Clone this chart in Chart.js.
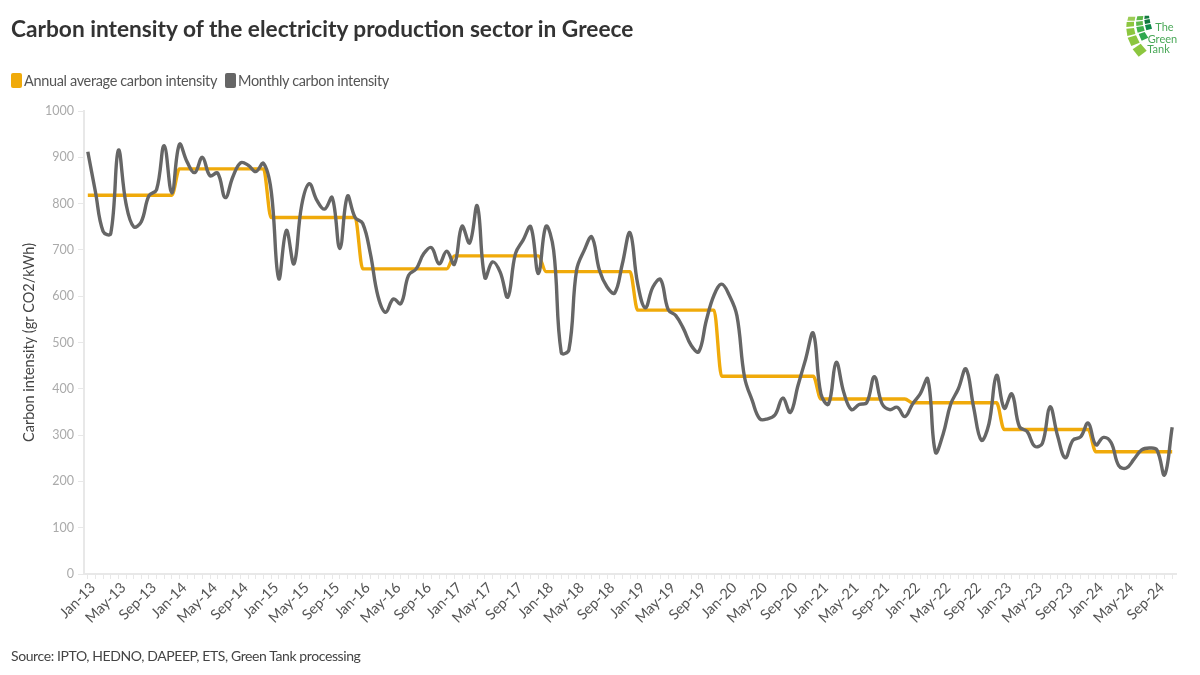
<!DOCTYPE html>
<html lang="en">
<head>
    <meta charset="UTF-8">
    <title>Carbon intensity of the electricity production sector in Greece</title>
    <style>
        * {
            margin: 0;
            padding: 0;
            box-sizing: border-box;
            font-family: Lato, sans-serif;
        }

        body {
            width: 1200px;
            height: 675px;
            background-color: #fff;
            position: relative;
            overflow: hidden;
        }

        #chart-box {
            position: absolute;
            left: 0;
            top: 0;
            width: 1200px;
            height: 675px;
        }

        h1 {
            position: absolute;
            left: 11px;
            top: 14px;
            font-size: 22.7px;
            line-height: 30px;
            font-weight: 700;
            color: #333;
            white-space: nowrap;
        }

        .legend-item {
            position: absolute;
            top: 71px;
            height: 20px;
            font-size: 14.5px;
            letter-spacing: -0.35px;
            line-height: 20px;
            color: #555;
            white-space: nowrap;
        }

        .swatch {
            position: absolute;
            top: 73px;
            width: 11px;
            height: 15px;
            border-radius: 2px;
        }

        #source {
            position: absolute;
            left: 11px;
            top: 646px;
            font-size: 14px;
            letter-spacing: -0.4px;
            line-height: 20px;
            color: #444;
            white-space: nowrap;
        }

        #logo {
            position: absolute;
            left: 1090px;
            top: 0;
        }
    </style>
    <script src="https://cdn.jsdelivr.net/npm/chart.js"></script>
</head>
<body>
    <div id="chart-box"><canvas id="intensityChart" width="1200" height="675"></canvas></div>

    <h1>Carbon intensity of the electricity production sector in Greece</h1>

    <div class="swatch" style="left: 11px; background-color: #f0aa0a;"></div>
    <div class="legend-item" style="left: 24px;">Annual average carbon intensity</div>
    <div class="swatch" style="left: 225px; background-color: #666;"></div>
    <div class="legend-item" style="left: 238px;">Monthly carbon intensity</div>

    <div id="source">Source: IPTO, HEDNO, DAPEEP, ETS, Green Tank processing</div>

    <svg id="logo" width="110" height="70" viewBox="0 0 330 210">
        <polygon points="128,148 152,131 170,152 146,170" fill="#8cc63f"/>
        <polygon points="113,113 138,106 149,128 124,138" fill="#8cc63f"/>
        <polygon points="109,86 132,84 136,102 112,108" fill="#8cc63f"/>
        <polygon points="110,66 132,65 132,79 109,81" fill="#8cc63f"/>
        <polygon points="115,50 136,50 134,62 112,62" fill="#9ccc55"/>
        <polygon points="146,102 164,96 175,113 155,122" fill="#2fa84f"/>
        <polygon points="139,81 160,78 164,92 143,98" fill="#3fb04a"/>
        <polygon points="138,65 158,63 159,75 139,78" fill="#5cb848"/>
        <polygon points="142,49 160,48 158,60 139,61" fill="#5cb848"/>
        <polygon points="165,75 182,72 186,86 169,91" fill="#0f8a4a"/>
        <polygon points="163,60 179,57 181,69 165,72" fill="#12793f"/>
        <polygon points="164,47 177,47 178,55 163,57" fill="#12793f"/>
        <text x="196" y="94" font-size="33" fill="#4aa858">The</text>
        <text x="173" y="128" font-size="33" fill="#4aa858">Green</text>
        <text x="172" y="160" font-size="33" fill="#4aa858">Tank</text>
    </svg>

    <script>
        // one label per month, Jan-13 to Nov-24
        const months = [
            'Jan-13', 'Feb-13', 'Mar-13', 'Apr-13', 'May-13', 'Jun-13', 'Jul-13', 'Aug-13', 'Sep-13', 'Oct-13', 'Nov-13', 'Dec-13',
            'Jan-14', 'Feb-14', 'Mar-14', 'Apr-14', 'May-14', 'Jun-14', 'Jul-14', 'Aug-14', 'Sep-14', 'Oct-14', 'Nov-14', 'Dec-14',
            'Jan-15', 'Feb-15', 'Mar-15', 'Apr-15', 'May-15', 'Jun-15', 'Jul-15', 'Aug-15', 'Sep-15', 'Oct-15', 'Nov-15', 'Dec-15',
            'Jan-16', 'Feb-16', 'Mar-16', 'Apr-16', 'May-16', 'Jun-16', 'Jul-16', 'Aug-16', 'Sep-16', 'Oct-16', 'Nov-16', 'Dec-16',
            'Jan-17', 'Feb-17', 'Mar-17', 'Apr-17', 'May-17', 'Jun-17', 'Jul-17', 'Aug-17', 'Sep-17', 'Oct-17', 'Nov-17', 'Dec-17',
            'Jan-18', 'Feb-18', 'Mar-18', 'Apr-18', 'May-18', 'Jun-18', 'Jul-18', 'Aug-18', 'Sep-18', 'Oct-18', 'Nov-18', 'Dec-18',
            'Jan-19', 'Feb-19', 'Mar-19', 'Apr-19', 'May-19', 'Jun-19', 'Jul-19', 'Aug-19', 'Sep-19', 'Oct-19', 'Nov-19', 'Dec-19',
            'Jan-20', 'Feb-20', 'Mar-20', 'Apr-20', 'May-20', 'Jun-20', 'Jul-20', 'Aug-20', 'Sep-20', 'Oct-20', 'Nov-20', 'Dec-20',
            'Jan-21', 'Feb-21', 'Mar-21', 'Apr-21', 'May-21', 'Jun-21', 'Jul-21', 'Aug-21', 'Sep-21', 'Oct-21', 'Nov-21', 'Dec-21',
            'Jan-22', 'Feb-22', 'Mar-22', 'Apr-22', 'May-22', 'Jun-22', 'Jul-22', 'Aug-22', 'Sep-22', 'Oct-22', 'Nov-22', 'Dec-22',
            'Jan-23', 'Feb-23', 'Mar-23', 'Apr-23', 'May-23', 'Jun-23', 'Jul-23', 'Aug-23', 'Sep-23', 'Oct-23', 'Nov-23', 'Dec-23',
            'Jan-24', 'Feb-24', 'Mar-24', 'Apr-24', 'May-24', 'Jun-24', 'Jul-24', 'Aug-24', 'Sep-24', 'Oct-24', 'Nov-24'
        ];

        const monthlyIntensity = [
            912, 825, 740, 735, 915, 800, 750, 761, 817, 830, 925, 823,
            928, 890, 867, 900, 860, 866, 813, 858, 888, 883, 869, 887,
            829, 638, 742, 670, 796, 843, 807, 788, 813, 703, 816, 770,
            757, 692, 600, 565, 594, 584, 645, 659, 692, 705, 670, 697,
            669, 751, 715, 795, 640, 674, 652, 598, 692, 721, 750, 649,
            751, 699, 478, 484, 656, 699, 728, 656, 620, 607, 670, 737,
            627, 575, 620, 636, 571, 558, 530, 494, 480, 548, 602, 626,
            602, 558, 425, 375, 335, 335, 344, 380, 349, 407, 464, 520,
            389, 367, 457, 392, 355, 366, 370, 426, 368, 355, 360, 340,
            367, 389, 421, 263, 302, 367, 400, 443, 360, 289, 324, 429,
            358, 389, 318, 308, 276, 282, 361, 298, 251, 289, 296, 326,
            279, 295, 284, 234, 229, 248, 268, 272, 268, 214, 317
        ];

        // annual average per month, the 2020 level already starts in Dec-19 in the source
        const annualIntensity = [
            818, 818, 818, 818, 818, 818, 818, 818, 818, 818, 818, 818,
            875, 875, 875, 875, 875, 875, 875, 875, 875, 875, 875, 875,
            770, 770, 770, 770, 770, 770, 770, 770, 770, 770, 770, 770,
            659, 659, 659, 659, 659, 659, 659, 659, 659, 659, 659, 659,
            687, 687, 687, 687, 687, 687, 687, 687, 687, 687, 687, 687,
            653, 653, 653, 653, 653, 653, 653, 653, 653, 653, 653, 653,
            570, 570, 570, 570, 570, 570, 570, 570, 570, 570, 570, 427,
            427, 427, 427, 427, 427, 427, 427, 427, 427, 427, 427, 427,
            378, 378, 378, 378, 378, 378, 378, 378, 378, 378, 378, 378,
            370, 370, 370, 370, 370, 370, 370, 370, 370, 370, 370, 370,
            312, 312, 312, 312, 312, 312, 312, 312, 312, 312, 312, 312,
            264, 264, 264, 264, 264, 264, 264, 264, 264, 264, 264
        ];

        const yTicks = [0, 100, 200, 300, 400, 500, 600, 700, 800, 900, 1000];

        const fontName = 'Lato, sans-serif';

        new Chart(document.getElementById('intensityChart').getContext('2d'), {
            type: 'line',
            data: {
                labels: months,
                datasets: [
                    {
                        label: 'Annual average carbon intensity',
                        data: annualIntensity,
                        borderColor: '#f0aa0a',
                        borderWidth: 3.4,
                        pointRadius: 0,
                        cubicInterpolationMode: 'monotone',
                        order: 2
                    },
                    {
                        label: 'Monthly carbon intensity',
                        data: monthlyIntensity,
                        borderColor: '#666',
                        borderWidth: 3.4,
                        pointRadius: 0,
                        tension: 0.4,
                        order: 1
                    }
                ]
            },
            options: {
                responsive: false,
                animation: false,
                layout: { padding: { top: 111, right: 24, left: 0, bottom: 0 } },
                plugins: {
                    legend: { display: false },
                    tooltip: { enabled: false }
                },
                scales: {
                    x: {
                        offset: true,
                        afterFit: scale => { scale.height = 101; },
                        border: { color: '#e8e8e8', width: 2 },
                        grid: { drawOnChartArea: false, color: '#e8e8e8', tickLength: 5, offset: false },
                        ticks: {
                            autoSkip: false,
                            maxRotation: 45,
                            minRotation: 45,
                            padding: 0,
                            labelOffset: 5,
                            color: '#555',
                            font: { family: fontName, size: 14.5 },
                            callback: (value, index) => (index % 4 === 0 ? months[index] : '')
                        }
                    },
                    y: {
                        min: 0,
                        max: 1000,
                        afterFit: scale => { scale.width = 84; },
                        afterBuildTicks: scale => { scale.ticks = yTicks.map(v => ({ value: v })); },
                        border: { color: '#e8e8e8', width: 2 },
                        grid: { drawOnChartArea: false, color: '#e8e8e8', tickLength: 6 },
                        ticks: {
                            padding: 4,
                            color: '#aaa',
                            font: { family: fontName, size: 12.5 },
                            callback: value => String(value)
                        },
                        title: {
                            display: true,
                            text: 'Carbon intensity (gr CO2/kWh)',
                            color: '#444',
                            font: { family: fontName, size: 14.5 },
                            padding: { top: 21, bottom: 0 }
                        }
                    }
                }
            }
        });
    </script>
</body>
</html>
